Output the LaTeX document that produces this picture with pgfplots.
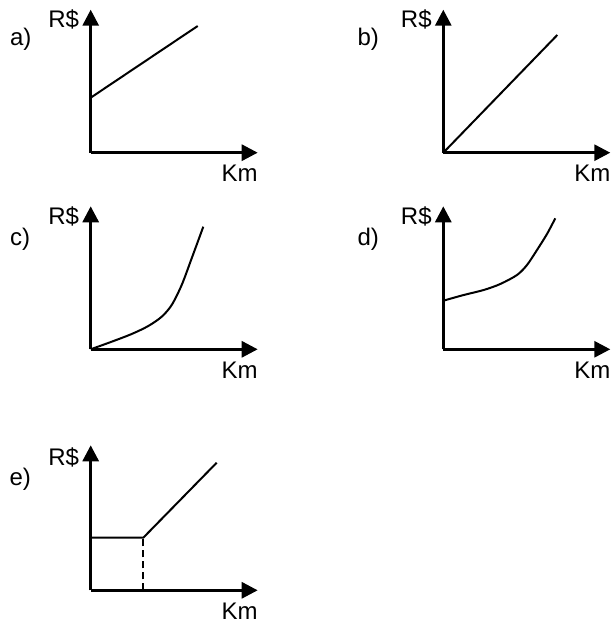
\documentclass[border=0pt]{standalone}
\usepackage{fontspec}
\setmainfont{Liberation Sans}
\usepackage{pgfplots}
\pgfplotsset{compat=1.18}
\usetikzlibrary{arrows.meta}

\pgfplotsset{
  panel/.style={
    anchor=south west,
    x=1pt, y=1pt,
    xmin=0, xmax=167, ymin=0, ymax=143,
    enlargelimits=false,
    axis lines=left,
    ticks=none,
    clip=false,
    axis line style={line width=3pt, -{Triangle[length=16pt,width=16pt]}},
    every axis plot/.append style={line width=2pt, black, no marks},
    label style={font=\fontsize{24}{27}\selectfont},
    title style={font=\fontsize{24}{27}\selectfont, anchor=center},
    xlabel={Km},
    ylabel={R\$},
    xlabel style={at={(axis cs:149,-21)}, anchor=center},
    ylabel style={rotate=-90, at={(axis cs:-27,133)}, anchor=center},
  },
}

\begin{document}
\begin{tikzpicture}
\useasboundingbox (0,0) rectangle (611pt,625pt);

% a) straight line with fixed part
\begin{axis}[panel, at={(90.7pt,472.3pt)}, title={a)},
  title style={at={(axis cs:-70,107)}}]
\addplot[black] coordinates {(0,55) (107,126.7)};
\end{axis}

% b) proportional
\begin{axis}[panel, at={(443.3pt,472.3pt)}, title={b)},
  title style={at={(axis cs:-75,107)}}]
\addplot[black] coordinates {(0,0) (114,117.7)};
\end{axis}

% c) curve from origin
\begin{axis}[panel, at={(90.7pt,275.7pt)}, title={c)},
  title style={at={(axis cs:-70.5,104.5)}}]
\addplot[black, smooth] coordinates {(0,0) (21,7.6) (41,15.3) (57.6,23.3) (71,32.6)
  (81,44.3) (91,64.3) (101,91) (112.6,122.6)};
\end{axis}

% d) curve with fixed part
\begin{axis}[panel, at={(443.3pt,275.7pt)}, title={d)},
  title style={at={(axis cs:-75,104.5)}}]
\addplot[black, smooth] coordinates {(0,48.6) (20.4,54.3) (40.4,59.3) (57,65.3) (73.7,74.3)
  (83.7,84.3) (93.7,99.3) (103.7,115.3) (112,131)};
\end{axis}

% e) flat then rising
\begin{axis}[panel, at={(90.7pt,34.7pt)}, ymax=145, title={e)},
  title style={at={(axis cs:-70.5,105.5)}}]
\addplot[black] coordinates {(0,52.6) (52.6,52.6) (126,127.6)};
\addplot[black, line width=1.6pt, dash pattern=on 7pt off 4pt] coordinates {(52.6,0) (52.6,52.6)};
\end{axis}
\end{tikzpicture}
\end{document}
